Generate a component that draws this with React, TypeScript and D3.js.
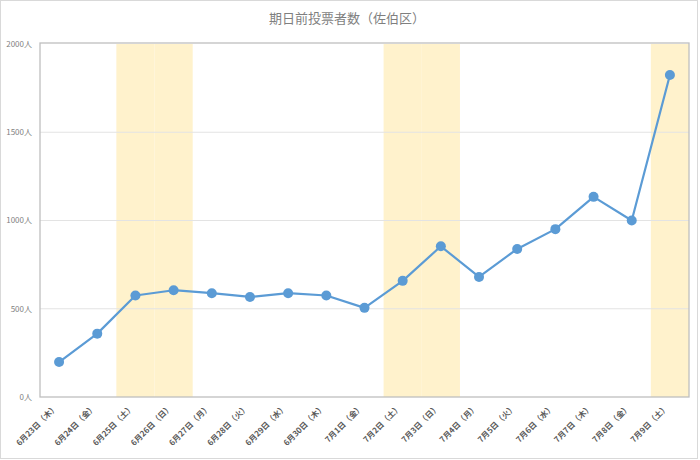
import React, { useEffect, useRef } from 'react';
import * as d3 from 'd3';

const dates = [
  '6月23日', '6月24日', '6月25日', '6月26日', '6月27日', '6月28日', '6月29日', '6月30日',
  '7月1日', '7月2日', '7月3日', '7月4日', '7月5日', '7月6日', '7月7日', '7月8日', '7月9日',
];
const weekdays = ['木', '金', '土', '日', '月', '火', '水', '木', '金', '土', '日', '月', '火', '水', '木', '金', '土'];
const voters = [198, 359, 575, 605, 588, 567, 588, 575, 505, 658, 854, 680, 839, 951, 1134, 1000, 1824];
const holidays = ['6月25日', '6月26日', '7月2日', '7月3日', '7月9日'];
const yTicks = [0, 500, 1000, 1500, 2000];

const FONT = '"Noto Sans CJK JP", "Noto Sans", sans-serif';

const App: React.FC = () => {
  const svgRef = useRef<SVGSVGElement>(null);

  useEffect(() => {
    if (!svgRef.current) return;
    const svg = d3.select(svgRef.current);
    svg.selectAll('*').remove();

    const width = 700;
    const height = 460;
    const margin = { top: 44, right: 11, bottom: 63, left: 40 };
    const innerWidth = width - margin.left - margin.right;
    const innerHeight = height - margin.top - margin.bottom;

    // outer frame
    svg.append('rect')
      .attr('x', 0.5).attr('y', 0.5)
      .attr('width', width - 3).attr('height', height - 2)
      .attr('fill', '#fff')
      .attr('stroke', '#d9d9d9');

    const x = d3.scaleBand<string>().domain(dates).range([0, innerWidth]).padding(0);
    const y = d3.scaleLinear().domain([0, 2000]).range([innerHeight, 0]);

    const g = svg.append('g').attr('transform', `translate(${margin.left},${margin.top})`);

    // weekend shading
    g.selectAll('rect.band')
      .data(holidays)
      .enter()
      .append('rect')
      .attr('class', 'band')
      .attr('x', (d: string) => x(d) as number)
      .attr('y', 0)
      .attr('width', x.bandwidth())
      .attr('height', innerHeight)
      .attr('fill', '#fff2cc');

    // gridlines
    g.selectAll('line.grid')
      .data(yTicks.filter((t) => t > 0 && t < 2000))
      .enter()
      .append('line')
      .attr('class', 'grid')
      .attr('x1', 0).attr('x2', innerWidth)
      .attr('y1', (d: number) => y(d)).attr('y2', (d: number) => y(d))
      .attr('stroke', '#e3e3e3')
      .attr('stroke-width', 1);

    // plot frame
    g.append('rect')
      .attr('x', 0).attr('y', -1)
      .attr('width', innerWidth).attr('height', innerHeight + 1)
      .attr('fill', 'none')
      .attr('stroke', '#bfbfbf')
      .attr('stroke-width', 1.3);

    // y labels
    g.selectAll('text.ytick')
      .data(yTicks)
      .enter()
      .append('text')
      .attr('class', 'ytick')
      .attr('x', -8)
      .attr('y', (d: number) => y(d))
      .attr('dy', '0.35em')
      .attr('text-anchor', 'end')
      .attr('font-family', FONT)
      .attr('font-size', '8px')
      .attr('fill', '#7f7f7f')
      .text((d: number) => `${d}人`);

    // x labels
    g.selectAll('text.xtick')
      .data(dates)
      .enter()
      .append('text')
      .attr('class', 'xtick')
      .attr('transform', (d: string) => `translate(${(x(d) as number) + x.bandwidth() / 2 - 1},${innerHeight + 11}) rotate(-45)`)
      .attr('text-anchor', 'end')
      .attr('font-family', FONT)
      .attr('font-size', '8px')
      .attr('font-weight', 'bold')
      .attr('fill', '#595959')
      .text((d: string, i: number) => `${d}（${weekdays[i]}）`);

    const cx = (i: number) => (x(dates[i]) as number) + x.bandwidth() / 2;

    const line = d3.line<number>()
      .x((_d: number, i: number) => cx(i))
      .y((d: number) => y(d));

    g.append('path')
      .datum(voters)
      .attr('d', line)
      .attr('fill', 'none')
      .attr('stroke', '#5b9bd5')
      .attr('stroke-width', 2.2)
      .attr('stroke-linejoin', 'round');

    g.selectAll('circle')
      .data(voters)
      .enter()
      .append('circle')
      .attr('cx', (_d: number, i: number) => cx(i))
      .attr('cy', (d: number) => y(d))
      .attr('r', 5)
      .attr('fill', '#5b9bd5');

    svg.append('text')
      .attr('x', 347)
      .attr('y', 23)
      .attr('text-anchor', 'middle')
      .attr('font-family', FONT)
      .attr('font-size', '13px')
      .attr('fill', '#7f7f7f')
      .text('期日前投票者数（佐伯区）');
  }, []);

  return (
    <svg
      ref={svgRef}
      width={700}
      height={460}
      style={{ position: 'absolute', left: 0, top: 0, display: 'block' }}
    />
  );
};

export default App;
